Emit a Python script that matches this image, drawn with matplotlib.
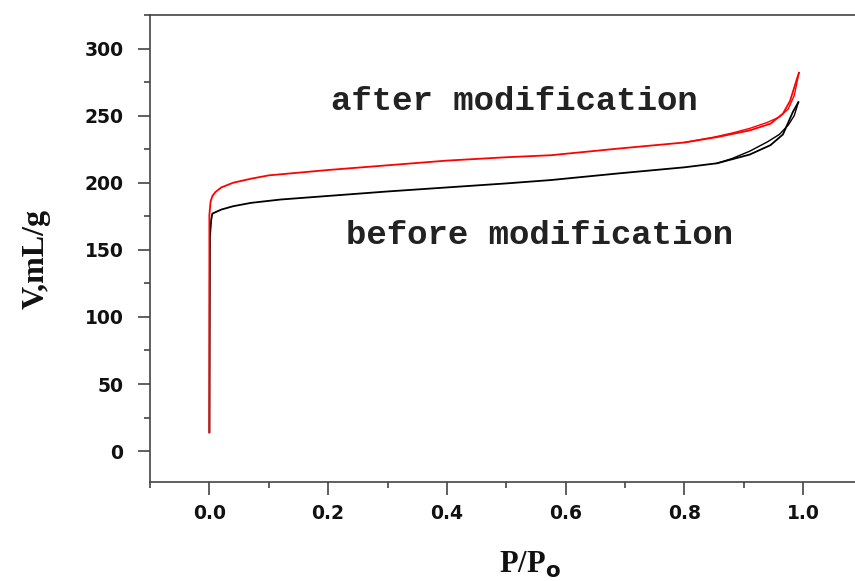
import matplotlib
matplotlib.use("Agg")
import matplotlib.pyplot as plt
import matplotlib.ticker as ticker

# isotherm data (P/P0 vs V, mL/g)
after_x = [0.0, 0.0, 0.002, 0.005, 0.01, 0.02, 0.04, 0.07, 0.10, 0.15, 0.20, 0.30,
           0.40, 0.50, 0.575, 0.69, 0.80, 0.855, 0.91, 0.945, 0.966, 0.978, 0.99, 0.993]
after_y = [14, 176, 186, 190, 193, 196.5, 200, 203, 205.5, 207.5, 209.5, 213,
           216.5, 219, 220.5, 225.5, 230, 234, 239, 244, 251.5, 261, 278, 282]
after_des_x = [0.993, 0.985, 0.975, 0.96, 0.94, 0.91, 0.88, 0.85, 0.80]
after_des_y = [282, 265, 255, 249, 245, 240.5, 237, 234, 230]

before_x = [0.0, 0.001, 0.003, 0.005, 0.02, 0.04, 0.07, 0.12, 0.18, 0.21, 0.30,
            0.40, 0.50, 0.575, 0.69, 0.80, 0.855, 0.91, 0.945, 0.966, 0.983, 0.992]
before_y = [14, 160, 172, 177, 180, 182.5, 185, 187.5, 189.5, 190.5, 193.5,
            196.5, 199.5, 202, 207, 211.5, 214.5, 221, 228, 236, 253, 260]
before_des_x = [0.992, 0.985, 0.975, 0.96, 0.94, 0.91, 0.88, 0.855]
before_des_y = [260, 250, 243, 236, 230.5, 223.5, 218, 214.5]

fig = plt.figure(figsize=(8.55, 5.81), dpi=100)
ax = fig.add_axes([150 / 855, 1 - 482 / 581, 712.5 / 855, 467 / 581])

ax.plot(before_x, before_y, color="black", lw=1.3)
ax.plot(before_des_x, before_des_y, color="black", lw=1.0)
ax.plot(after_x, after_y, color="red", lw=1.3)
ax.plot(after_des_x, after_des_y, color="red", lw=1.0)

ax.set_xlim(-0.1, 1.1)
ax.set_ylim(-23, 325)

ax.xaxis.set_major_locator(ticker.MultipleLocator(0.2))
ax.xaxis.set_minor_locator(ticker.MultipleLocator(0.1))
ax.xaxis.set_major_formatter(ticker.FormatStrFormatter("%.1f"))
ax.yaxis.set_major_locator(ticker.MultipleLocator(50))
ax.yaxis.set_minor_locator(ticker.MultipleLocator(25))

for side in ["left", "bottom", "top"]:
    ax.spines[side].set_color("#444444")
    ax.spines[side].set_linewidth(1.2)
ax.spines["right"].set_visible(False)

ax.tick_params(which="major", direction="out", length=9, width=1.2, color="#444444")
ax.tick_params(which="minor", direction="out", length=4.5, width=1.2, color="#444444")
ax.tick_params(axis="y", which="major", pad=10)
ax.tick_params(axis="x", which="major", pad=7)
for lab in ax.get_xticklabels() + ax.get_yticklabels():
    lab.set_fontweight("heavy")
    lab.set_fontsize(13.5)
    lab.set_color("#111111")

ax.set_xlabel("P/P$_{\\mathbf{o}}$", family="Liberation Serif", fontweight="bold",
              fontsize=22, color="#111111")
ax.xaxis.set_label_coords(0.533, -0.146)
ax.set_ylabel("V,mL/g", family="Liberation Serif", fontweight="bold",
              fontsize=23, color="#111111")
ax.yaxis.set_label_coords(-0.14, 0.477)

ax.text(0.205, 260.6, "after modification", family="Liberation Mono",
        fontweight="bold", fontsize=24.5, color="#222222", va="center", ha="left")
ax.text(0.230, 160.8, "before modification", family="Liberation Mono",
        fontweight="bold", fontsize=24.5, color="#222222", va="center", ha="left")

fig.savefig("out.png", dpi=100)
